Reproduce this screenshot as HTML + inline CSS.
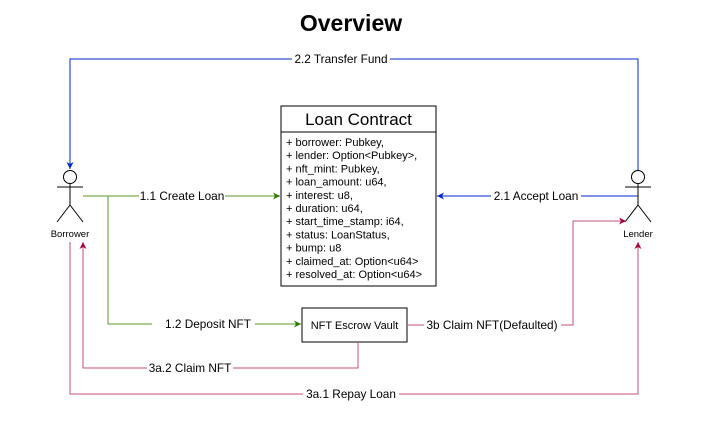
<!DOCTYPE html>
<html><head><style>
body{margin:0;background:#fff;width:707px;height:419px;overflow:hidden;font-family:"Liberation Sans",Arial,sans-serif}
</style></head><body>
<svg width="707" height="419" xmlns="http://www.w3.org/2000/svg" font-family="Liberation Sans, Arial, sans-serif">
<defs>
<marker id="ab" markerWidth="8" markerHeight="8" refX="7" refY="4" orient="auto" markerUnits="userSpaceOnUse"><path d="M0,0.5 L7,4 L0,7.5 L2,4 Z" fill="#0027c8"/></marker>
<marker id="ag" markerWidth="8" markerHeight="8" refX="7" refY="4" orient="auto" markerUnits="userSpaceOnUse"><path d="M0,0.5 L7,4 L0,7.5 L2,4 Z" fill="#2d7a00"/></marker>
<marker id="ar" markerWidth="8" markerHeight="8" refX="7" refY="4" orient="auto" markerUnits="userSpaceOnUse"><path d="M0,0.5 L7,4 L0,7.5 L2,4 Z" fill="#a50040"/></marker>
</defs>
<text x="351" y="31" text-anchor="middle" font-size="23" font-weight="bold">Overview</text>
<g stroke="#000" stroke-width="1" fill="#fff">
<circle cx="70" cy="177" r="6.5"/><line x1="70" y1="183.5" x2="70" y2="205"/><line x1="57" y1="187" x2="83" y2="187"/><line x1="70" y1="205" x2="57" y2="222"/><line x1="70" y1="205" x2="83" y2="222"/>
<circle cx="638" cy="177" r="6.5"/><line x1="638" y1="183.5" x2="638" y2="205"/><line x1="625" y1="187" x2="651" y2="187"/><line x1="638" y1="205" x2="625" y2="222"/><line x1="638" y1="205" x2="651" y2="222"/>
</g>
<text x="70" y="237" text-anchor="middle" font-size="9.5">Borrower</text>
<text x="638" y="237" text-anchor="middle" font-size="9.5">Lender</text>
<rect x="281" y="106" width="155" height="180" fill="#fff" stroke="#000"/>
<line x1="281" y1="132" x2="436" y2="132" stroke="#000"/>
<text x="358.5" y="125" text-anchor="middle" font-size="17">Loan Contract</text>
<g font-size="11">
<text x="286" y="146">+ borrower: Pubkey,</text>
<text x="286" y="159">+ lender: Option&lt;Pubkey&gt;,</text>
<text x="286" y="172.5">+ nft_mint: Pubkey,</text>
<text x="286" y="185.5">+ loan_amount: u64,</text>
<text x="286" y="199">+ interest: u8,</text>
<text x="286" y="212">+ duration: u64,</text>
<text x="286" y="225">+ start_time_stamp: i64,</text>
<text x="286" y="238.5">+ status: LoanStatus,</text>
<text x="286" y="251.5">+ bump: u8</text>
<text x="286" y="265">+ claimed_at: Option&lt;u64&gt;</text>
<text x="286" y="278">+ resolved_at: Option&lt;u64&gt;</text>
</g>
<rect x="302" y="308" width="105" height="34" fill="#fff" stroke="#000"/>
<text x="354.5" y="329" text-anchor="middle" font-size="11">NFT Escrow Vault</text>
<g fill="none" stroke-width="1">
<polyline points="638,170 638,59 70,59 70,169" stroke="#0027c8" marker-end="url(#ab)"/>
<polyline points="638,196 437,196" stroke="#0027c8" marker-end="url(#ab)"/>
<polyline points="83,196 280,196" stroke="#5a9a2a" marker-end="url(#ag)"/>
<polyline points="108,196 108,324 152,324" stroke="#5a9a2a"/>
<polyline points="255,324 301,324" stroke="#5a9a2a" marker-end="url(#ag)"/>
<polyline points="407,325 573,325 573,221 626,221" stroke="#c0507a" marker-end="url(#ar)"/>
<polyline points="358,342 358,368 83,368 83,242" stroke="#c0507a" marker-end="url(#ar)"/>
<polyline points="70,242 70,394 638,394 638,242" stroke="#c0507a" marker-end="url(#ar)"/>
</g>
<g font-size="11.8" text-anchor="middle">
<rect x="292" y="52" width="98" height="14" fill="#fff"/><text x="341" y="63">2.2 Transfer Fund</text>
<rect x="139" y="189" width="86" height="14" fill="#fff"/><text x="182" y="200">1.1 Create Loan</text>
<rect x="491" y="189" width="90" height="14" fill="#fff"/><text x="536" y="200">2.1 Accept Loan</text>
<text x="208" y="328">1.2 Deposit NFT</text>
<rect x="424" y="318" width="137" height="14" fill="#fff"/><text x="492" y="329">3b Claim NFT(Defaulted)</text>
<rect x="147" y="361" width="86" height="14" fill="#fff"/><text x="190" y="372">3a.2 Claim NFT</text>
<rect x="303" y="387" width="96" height="14" fill="#fff"/><text x="351" y="398">3a.1 Repay Loan</text>
</g>
</svg>
</body></html>
